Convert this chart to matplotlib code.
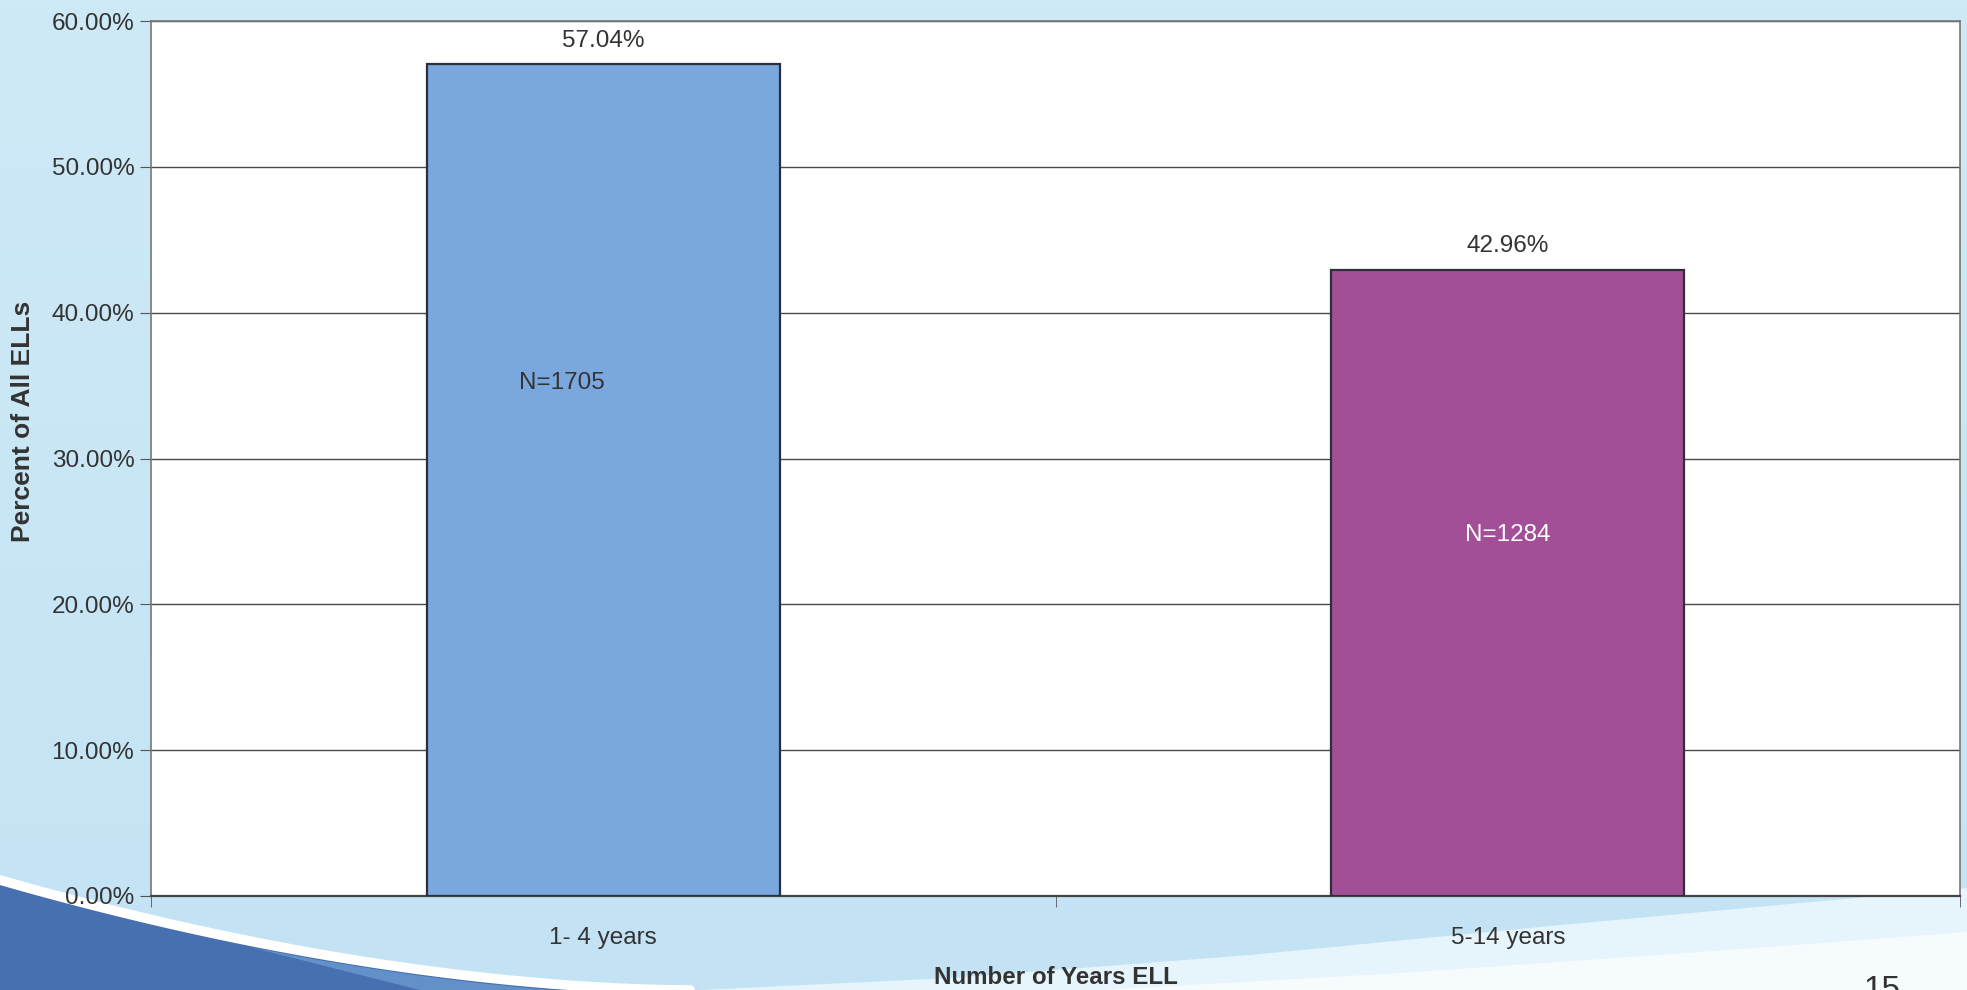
import matplotlib
matplotlib.use("Agg")
import matplotlib.pyplot as plt
import numpy as np
from matplotlib.patches import Polygon
from matplotlib.ticker import FuncFormatter
from matplotlib.colors import LinearSegmentedColormap

plt.rcParams['font.family'] = ['Liberation Sans', 'DejaVu Sans']

# ---- data ----
categories = ["1- 4 years", "5-14 years"]
percent_values = [57.04, 42.96]
n_counts = [1705, 1284]
bar_colors = ["#7aa7de", "#a34f98"]
n_label_colors = ["#333333", "#ffffff"]
y_ticks = [0, 10, 20, 30, 40, 50, 60]

# layout constants (label positions)
n_label_x_shift = [-0.046, 0.0]
n_label_y = [35.2, 24.75]

W, H, DPI = 1967, 990, 100
fig = plt.figure(figsize=(W / DPI, H / DPI), dpi=DPI)

# ---- background (decorative slide) ----
bg = fig.add_axes([0, 0, 1, 1], zorder=-10)
bg.set_xlim(0, W)
bg.set_ylim(H, 0)
bg.axis('off')
grad = np.linspace(0, 1, 256).reshape(-1, 1)
cm_bg = LinearSegmentedColormap.from_list("bg", ["#cfeaf7", "#c3e3f4"])
bg.imshow(grad, extent=[0, W, H, 0], cmap=cm_bg, aspect='auto', zorder=0)

# white area bottom-right
wr = [(700, 990), (950, 978), (1250, 955), (1550, 926), (1800, 903), (1967, 888), (1967, 990)]
bg.add_patch(Polygon(wr, closed=True, facecolor="#e6f4fb", edgecolor='none', zorder=1))
wr2 = [(1100, 990), (1400, 973), (1700, 952), (1967, 932), (1967, 990)]
bg.add_patch(Polygon(wr2, closed=True, facecolor="#f6fbfd", edgecolor='none', zorder=1))

# dark wave bottom-left
xs = np.linspace(0, 690, 60)
ys = 880 + (990 - 880) * (1 - (1 - xs / 690) ** 1.8)
dark = [(x, y) for x, y in zip(xs, ys)] + [(690, 990), (0, 990)]
bg.add_patch(Polygon(dark, closed=True, facecolor="#4670b0", edgecolor='none', zorder=2))
xs2 = np.linspace(250, 690, 40)
ys2 = 880 + (990 - 880) * (1 - (1 - xs2 / 690) ** 1.8) + 6
light = [(x, y) for x, y in zip(xs2, ys2)] + [(690, 990), (420, 990)]
bg.add_patch(Polygon(light, closed=True, facecolor="#6f9ed3", edgecolor='none', zorder=2, alpha=0.7))
bg.plot(xs, ys, color="white", lw=7, solid_capstyle='round', zorder=3)

bg.text(1882, 975, "15", fontsize=24, color="#333333", ha='center', va='top', zorder=4)

# ---- chart ----
left, right, top, bottom = 151, 1960, 21, 896
ax = fig.add_axes([left / W, (H - bottom) / H, (right - left) / W, (bottom - top) / H])
ax.set_facecolor("white")

FS = 17.5
x = np.arange(len(categories))
bars = ax.bar(x, percent_values, width=0.39, color=bar_colors,
              edgecolor="#2e2e38", linewidth=1.6, zorder=3)

ax.set_xlim(-0.5, len(categories) - 0.5)
ax.set_ylim(0, 60)
ax.set_yticks(y_ticks)
ax.yaxis.set_major_formatter(FuncFormatter(lambda v, p: f"{v:.2f}%"))
ax.yaxis.grid(True, color="#4a4a4a", linewidth=1.0, zorder=1)
ax.set_axisbelow(True)

ax.set_xticks(x)
ax.set_xticklabels(categories)
ax.set_xticks(np.arange(-0.5, len(categories), 1.0), minor=True)
ax.tick_params(axis='x', which='major', length=0, pad=22, labelsize=FS, labelcolor="#333333")
ax.tick_params(axis='x', which='minor', length=8, direction='out', color="#555555")
ax.tick_params(axis='y', length=8, direction='out', color="#555555", pad=4,
               labelsize=FS, labelcolor="#333333")

for s in ['left', 'top', 'right']:
    ax.spines[s].set_color("#777777")
    ax.spines[s].set_linewidth(1.2)
ax.spines['bottom'].set_color("#444444")
ax.spines['bottom'].set_linewidth(1.6)

# value labels
for xi, v in zip(x, percent_values):
    ax.annotate(f"{v:.2f}%", xy=(xi, v), xytext=(0, 17.0), textcoords='offset points',
                ha='center', va='center', fontsize=FS, color="#333333")

# N labels
for xi, n, dx, yy, c in zip(x, n_counts, n_label_x_shift, n_label_y, n_label_colors):
    ax.text(xi + dx, yy, f"N={n}", ha='center', va='center', fontsize=FS, color=c, zorder=4)

ax.set_xlabel("Number of Years ELL", fontsize=17.4, fontweight='bold', color="#333333", va='center')
ax.xaxis.set_label_coords(0.5, -0.0937)
ax.set_ylabel("Percent of All ELLs", fontsize=19, fontweight='bold', color="#333333", va='center')
ax.yaxis.set_label_coords(-0.0710, 0.543)

fig.savefig("out.png", dpi=DPI)
